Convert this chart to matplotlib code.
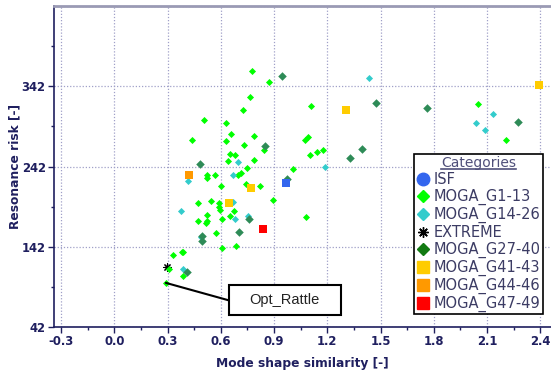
import matplotlib
matplotlib.use("Agg")
import matplotlib.pyplot as plt
from matplotlib.lines import Line2D
from matplotlib.patches import Rectangle
import numpy as np

# ---------------- data ----------------
g1_x = [0.773, 0.872, 0.763, 0.724, 0.503, 0.628, 0.656, 0.787, 0.439, 0.628,
        0.729, 0.842, 0.651, 0.679, 0.643, 0.786, 0.745, 0.520, 0.523, 0.566,
        0.697, 0.711, 0.600, 0.741, 0.818, 0.891, 0.472, 0.545, 0.590, 0.589,
        0.593, 0.673, 0.520, 0.649, 0.604, 0.472, 0.516, 0.524, 0.572, 0.609,
        0.688, 0.388, 0.380, 0.330, 0.309, 0.384, 0.290, 1.108, 1.076, 1.093,
        1.100, 1.140, 1.178, 1.007, 1.078, 2.051, 2.207]
g1_y = [361.5, 347.5, 328, 313, 300, 296, 282, 280, 275, 273.5,
        269, 262, 257, 256, 249, 249.5, 240, 232, 228, 231,
        231, 234, 218, 220.5, 218, 200.5, 197, 199, 197, 191,
        188, 186, 182, 180, 177, 174.5, 172, 174, 159.5, 140,
        143, 136, 135, 132, 114.6, 105, 97, 317.6, 275, 279,
        256, 260, 263, 239, 179, 319.6, 275.6]

g14_x = [0.694, 0.413, 0.666, 0.666, 0.375, 0.677, 0.754, 0.488, 0.384,
         1.434, 1.189, 2.132, 2.036, 2.089]
g14_y = [248, 224, 231, 197.5, 187, 176, 180, 154, 114,
         352, 242, 308, 296, 287]

g27_x = [0.945, 0.848, 0.482, 0.758, 0.700, 0.495, 0.495, 0.410,
         1.472, 1.395, 1.327, 0.973, 1.760, 2.272]
g27_y = [355, 267, 245, 176, 160.5, 155, 149, 110,
         321, 263.5, 253, 227, 314.6, 297]

g41_x = [0.769, 0.647, 1.303, 2.394]
g41_y = [215, 197, 312.6, 343]

g44_x = [0.420]
g44_y = [231]

g47_x = [0.835]
g47_y = [164.5]

isf_x = [0.967]
isf_y = [221]

ext_x = [0.294]
ext_y = [116.6]

opt_x = 0.290
opt_y = 97
opt_label = "Opt_Rattle"

categories = ["ISF", "MOGA_G1-13", "MOGA_G14-26", "EXTREME", "MOGA_G27-40",
              "MOGA_G41-43", "MOGA_G44-46", "MOGA_G47-49"]

x_ticks = [-0.3, 0.0, 0.3, 0.6, 0.9, 1.2, 1.5, 1.8, 2.1, 2.4]
y_ticks = [42, 142, 242, 342]

# ---------------- style ----------------
navy = "#1f1f5f"
c_isf = "#3366ee"
c_g1 = "#00ff00"
c_g14 = "#33cccc"
c_g27 = "#2e8b57"
c_g27_leg = "#127a12"
c_g41 = "#ffcc00"
c_g44 = "#ff9900"
c_g47 = "#ff0000"

fig = plt.figure(figsize=(5.51, 3.74), dpi=100, facecolor="white")
W, H = 551, 374
ax_l, ax_r, ax_t, ax_b = 54, 551, 6, 327
ax = fig.add_axes([ax_l / W, 1 - ax_b / H, (ax_r - ax_l) / W, (ax_b - ax_t) / H])

ax.set_xlim(-0.34, 2.46)
ax.set_ylim(42, 442)

# grid
ax.set_xticks(x_ticks)
ax.set_yticks(y_ticks)
ax.set_xticks(np.arange(-0.15, 2.46, 0.3), minor=True)
ax.set_yticks([92, 192, 292, 392], minor=True)
ax.grid(True, which="major", color="#a0a0c8", linestyle=(0, (1, 1.5)), linewidth=0.9)
ax.axhline(442, color="#a0a0c8", linestyle=(0, (1, 1.5)), linewidth=0.9)
ax.set_axisbelow(True)

ax.set_xticklabels([f"{v:.1f}" for v in x_ticks])
ax.set_yticklabels([str(v) for v in y_ticks])
ax.tick_params(axis="both", which="major", direction="out", length=4, width=1,
               color=navy, labelcolor=navy, labelsize=8.4, pad=2)
ax.tick_params(axis="both", which="minor", direction="out", length=2.5, width=1,
               color=navy)
for lab in ax.get_xticklabels() + ax.get_yticklabels():
    lab.set_fontweight("bold")

for s in ["left", "bottom"]:
    ax.spines[s].set_color(navy)
    ax.spines[s].set_linewidth(1.2)
ax.spines["right"].set_visible(False)
ax.spines["top"].set_color("#9a9ab4")
ax.spines["top"].set_linewidth(2)

ax.set_xlabel("Mode shape similarity [-]", fontsize=8.8, fontweight="bold",
              color=navy, labelpad=6)
ax.set_ylabel("Resonance risk [-]", fontsize=8.8, fontweight="bold",
              color=navy)
ax.yaxis.set_label_coords((21 - ax_l) / (ax_r - ax_l), 0.5)

# ---------------- points ----------------
ax.scatter(ext_x, ext_y, marker=(8, 2, 0), s=28, color="black", linewidths=0.8, zorder=3)
ax.scatter(g1_x, g1_y, marker="D", s=13, color=c_g1, linewidths=0, zorder=4)
ax.scatter(g14_x, g14_y, marker="D", s=13, color=c_g14, linewidths=0, zorder=4)
ax.scatter(g27_x, g27_y, marker="D", s=19, color=c_g27, linewidths=0, zorder=5)
ax.scatter(g41_x, g41_y, marker="s", s=30, color=c_g41, linewidths=0, zorder=6)
ax.scatter(g44_x, g44_y, marker="s", s=30, color=c_g44, linewidths=0, zorder=6)
ax.scatter(g47_x, g47_y, marker="s", s=30, color=c_g47, linewidths=0, zorder=6)
ax.scatter(isf_x, isf_y, marker="s", s=30, color=c_isf, linewidths=0, zorder=7)

# ---------------- annotation ----------------
box_x0, box_x1 = 0.645, 1.275
box_y0, box_y1 = 56.5, 93.9
ax.add_patch(Rectangle((box_x0, box_y0), box_x1 - box_x0, box_y1 - box_y0,
                       facecolor="white", edgecolor="black", linewidth=1.5,
                       zorder=8))
ax.annotate("", xy=(opt_x, opt_y), xytext=(box_x0, (box_y0 + box_y1) / 2),
            arrowprops=dict(arrowstyle="-", color="black", lw=1.5,
                            shrinkA=0, shrinkB=0), zorder=8)
ax.text((box_x0 + box_x1) / 2, (box_y0 + box_y1) / 2, opt_label,
        ha="center", va="center", fontsize=10.5, family="Liberation Sans",
        color="#222222", zorder=9)

# ---------------- legend ----------------
handles = [
    Line2D([], [], marker="o", linestyle="none", color=c_isf, markersize=9),
    Line2D([], [], marker="D", linestyle="none", color=c_g1, markersize=6),
    Line2D([], [], marker="D", linestyle="none", color=c_g14, markersize=6),
    Line2D([], [], marker=(8, 2, 0), linestyle="none", color="black", markersize=7.5, markeredgewidth=1),
    Line2D([], [], marker="D", linestyle="none", color=c_g27_leg, markersize=6),
    Line2D([], [], marker="s", linestyle="none", color=c_g41, markersize=8.5),
    Line2D([], [], marker="s", linestyle="none", color=c_g44, markersize=8.5),
    Line2D([], [], marker="s", linestyle="none", color=c_g47, markersize=8.5),
]
leg = ax.legend(handles, categories, title="Categories",
                loc="upper left", bbox_to_anchor=(414 / W, 1 - 154 / H),
                bbox_transform=fig.transFigure, borderaxespad=0,
                fontsize=10.5, title_fontsize=10, frameon=True, fancybox=False,
                borderpad=0.15, handlelength=1.0, handletextpad=0.2,
                labelspacing=0.125, markerscale=1.0)
leg.get_frame().set_edgecolor("black")
leg.get_frame().set_linewidth(1.2)
leg.get_frame().set_alpha(1)
leg.set_zorder(10)
for t in leg.get_texts():
    t.set_color("#3c3c64")
leg.get_title().set_color("#50507a")

fig.canvas.draw()
r = fig.canvas.get_renderer()
bb = leg.get_title().get_window_extent(r)
inv = fig.transFigure.inverted()
(x0, y0) = inv.transform((bb.x0, bb.y0 + 1))
(x1, _) = inv.transform((bb.x1, bb.y0 + 1))
fig.add_artist(Line2D([x0, x1], [y0, y0], color="#50507a", linewidth=1.2,
                      transform=fig.transFigure, zorder=11))

fig.savefig("out.png", dpi=100, facecolor="white")
